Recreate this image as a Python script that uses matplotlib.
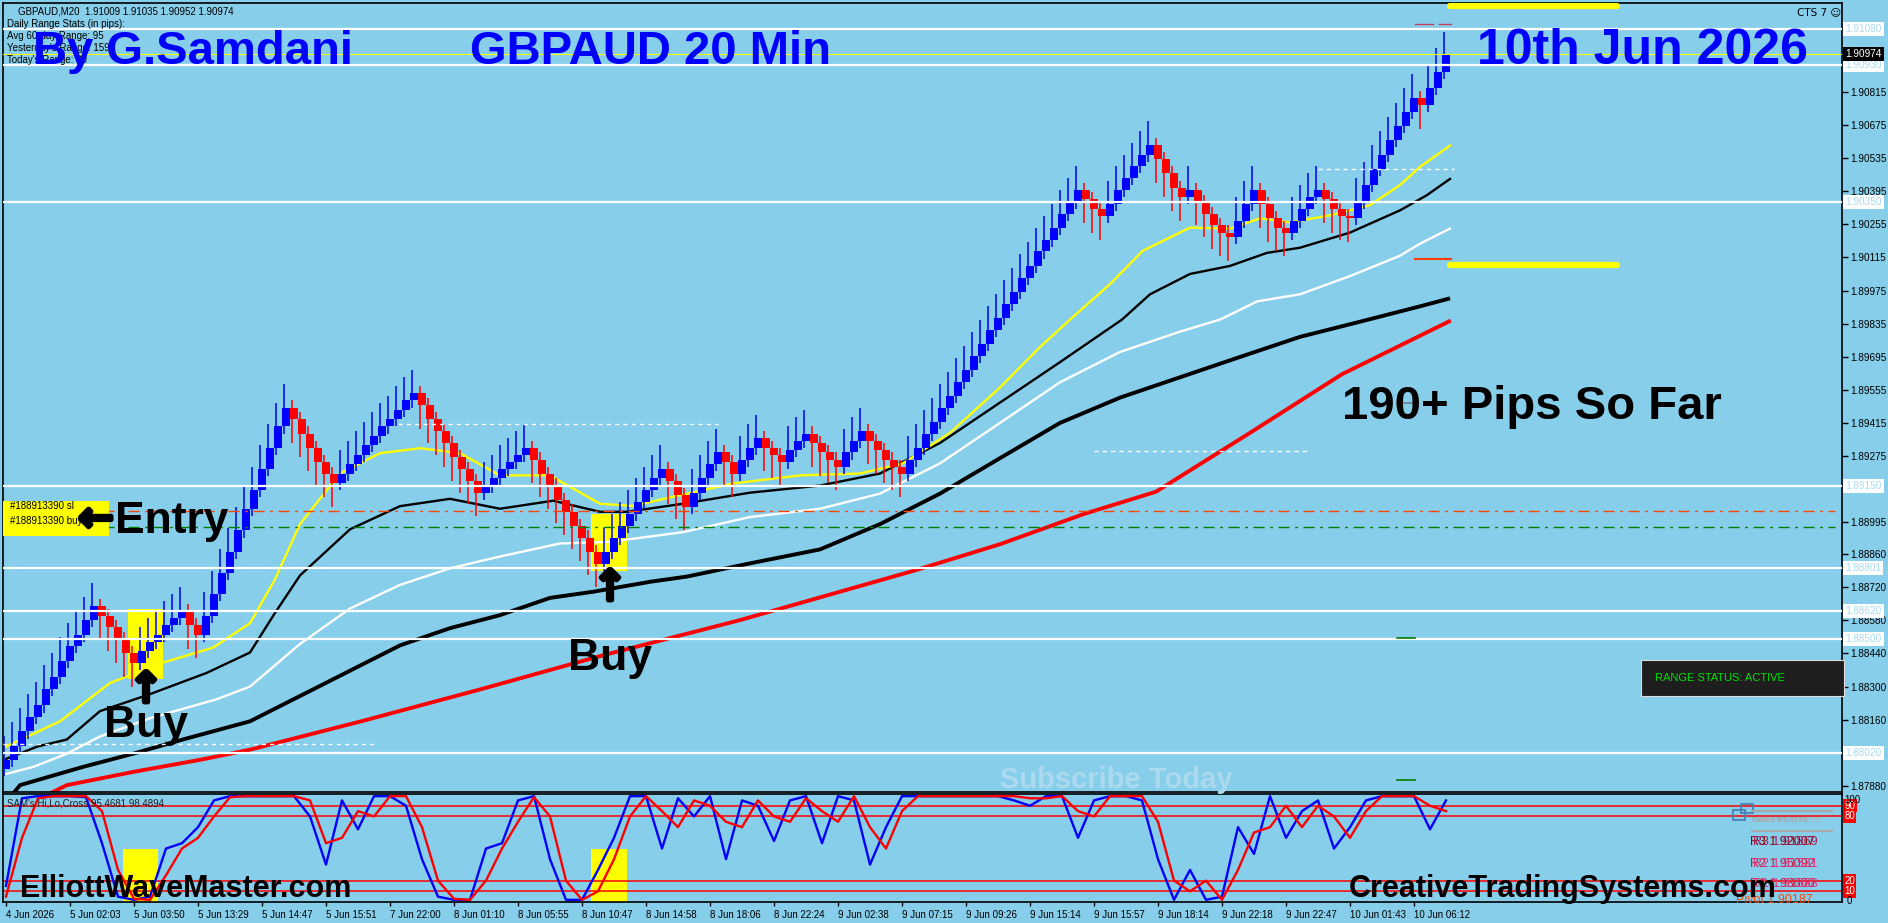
import matplotlib
matplotlib.use("Agg")
import matplotlib.pyplot as plt
import matplotlib.patheffects as pe
from matplotlib.patches import Rectangle

W, H = 1888, 923
BG = "#87CEEB"
BOLD = ["Liberation Sans", "DejaVu Sans"]
SMALL = ["Liberation Sans", "DejaVu Sans"]

# ---------------- data ----------------
closes = [
    1.8799, 1.8805, 1.8811, 1.8817, 1.8822, 1.8829, 1.8834, 1.8841, 1.8847, 1.8852,
    1.8858, 1.8864, 1.8860, 1.8855, 1.8850, 1.8844, 1.8840, 1.8845, 1.8849, 1.8852,
    1.8856, 1.8859, 1.8862, 1.8856, 1.8852, 1.8860, 1.8869, 1.8878, 1.8887, 1.8896,
    1.8905, 1.8913, 1.8922, 1.8931, 1.8940, 1.8948, 1.8943, 1.8937, 1.8931, 1.8925,
    1.8920, 1.8916, 1.8920, 1.8924, 1.8928, 1.8932, 1.8936, 1.8940, 1.8943, 1.8947,
    1.8951, 1.8954, 1.8949, 1.8943, 1.8938, 1.8933, 1.8927, 1.8922, 1.8917, 1.8912,
    1.8915, 1.8918, 1.8922, 1.8925, 1.8928, 1.8931, 1.8926, 1.8920, 1.8915, 1.8909,
    1.8904, 1.8898, 1.8893, 1.8887, 1.8882, 1.8887, 1.8893, 1.8898, 1.8903, 1.8908,
    1.8913, 1.8918, 1.8922, 1.8917, 1.8911, 1.8906, 1.8912, 1.8918, 1.8924, 1.8929,
    1.8925, 1.8920, 1.8926, 1.8931, 1.8935, 1.8931, 1.8928, 1.8925, 1.8930, 1.8934,
    1.8937, 1.8933, 1.8929, 1.8926, 1.8923, 1.8929, 1.8934, 1.8938, 1.8934, 1.8930,
    1.8926, 1.8923, 1.8920, 1.8926, 1.8931, 1.8937, 1.8942, 1.8948, 1.8953, 1.8959,
    1.8964, 1.8970, 1.8975, 1.8981, 1.8986, 1.8992, 1.8997, 1.9003, 1.9008, 1.9014,
    1.9019, 1.9024, 1.9030, 1.9035, 1.9040, 1.9036, 1.9032, 1.9029, 1.9034, 1.9040,
    1.9045, 1.9050, 1.9055, 1.9059, 1.9053, 1.9047, 1.9041, 1.9037, 1.9040, 1.9035,
    1.9030, 1.9025, 1.9022, 1.9020, 1.9027, 1.9034, 1.9040, 1.9034, 1.9028, 1.9024,
    1.9022, 1.9027, 1.9032, 1.9037, 1.9040, 1.9036, 1.9032, 1.9029, 1.9028, 1.9035,
    1.9042, 1.9049, 1.9055, 1.9061, 1.9067, 1.9073, 1.9079, 1.9076, 1.9083, 1.9090,
    1.9097,
]

yellow_x = [0, 6.75, 13, 19.6, 25.9, 30.5, 33.6, 36.75, 41.75, 46.75, 51.75, 56.75,
            61.75, 68, 74.25, 78.4, 83.4, 90.9, 99.25, 106.75, 112.1, 118, 124.25,
            129.25, 133, 138, 142.1, 148, 153, 156.75, 160.5, 165.5, 170.5, 174.25,
            176.75, 180.5]
yellow_ma = [1.88046, 1.88153, 1.88315, 1.88401, 1.88465, 1.88568, 1.88752, 1.88987,
             1.89201, 1.89287, 1.89308, 1.89287, 1.89193, 1.89193, 1.89073, 1.89064,
             1.89103, 1.89159, 1.89193, 1.89201, 1.89244, 1.89373, 1.89565, 1.89736,
             1.89852, 1.90002, 1.90143, 1.90241, 1.90237, 1.90280, 1.90263, 1.90293,
             1.90336, 1.90421, 1.90498, 1.90588]

black_x = [0, 3.9, 7.6, 11.75, 18, 25.1, 30.5, 33.6, 36.75, 43, 49.25, 55.5, 61.75,
           68.4, 74.25, 77.6, 84.6, 93, 101.75, 109.25, 116.75, 124.25, 131.75, 139.5,
           143, 148, 153, 157.6, 161.75, 168, 174.25, 177.6, 180.5]
black_ma = [1.87994, 1.88046, 1.88076, 1.88196, 1.88268, 1.88358, 1.88444, 1.88610,
            1.88770, 1.88965, 1.89063, 1.89094, 1.89052, 1.89086, 1.89039, 1.89039,
            1.89073, 1.89120, 1.89150, 1.89201, 1.89330, 1.89501, 1.89672, 1.89852,
            1.89959, 1.90045, 1.90079, 1.90134, 1.90156, 1.90220, 1.90314, 1.90378,
            1.90447]

white_x = [0, 3.4, 7.6, 11.75, 18, 26.4, 30.5, 36.75, 43, 49.25, 55.5, 61.75, 69.25,
           75.5, 84.6, 93, 101.75, 109.25, 116.75, 124.25, 131.75, 139.25, 146.75,
           151.75, 156.4, 161.75, 168, 174.25, 176.75, 180.5]
white_ma = [1.87930, 1.87960, 1.88016, 1.88089, 1.88166, 1.88247, 1.88300, 1.88480,
            1.88630, 1.88730, 1.88800, 1.88850, 1.88905, 1.88912, 1.88953, 1.89017,
            1.89052, 1.89116, 1.89244, 1.89415, 1.89587, 1.89715, 1.89801, 1.89852,
            1.89929, 1.89959, 1.90036, 1.90122, 1.90173, 1.90237]

thick_x = [0, 1.75, 9.6, 15.9, 22.1, 30.5, 36.75, 43, 49.25, 55.5, 61.75, 68, 73.4,
           80.5, 85.1, 93, 101.75, 109.25, 116.75, 124.25, 131.75, 139.25, 146.75,
           154.25, 161.75, 169.25, 176.75, 180.5]
thick_ma = [1.87810, 1.87883, 1.87960, 1.88016, 1.88076, 1.88153, 1.88260, 1.88367,
            1.88474, 1.88547, 1.88602, 1.88675, 1.88701, 1.88743, 1.88765, 1.88821,
            1.88880, 1.88987, 1.89116, 1.89266, 1.89415, 1.89522, 1.89608, 1.89694,
            1.89779, 1.89843, 1.89908, 1.89942]

red_x = [0, 7.6, 15.9, 24.25, 30.5, 44.4, 59.5, 74.5, 91.75, 113.6, 124.25, 134.75,
         143.75, 155.5, 167, 180.6]
red_ma = [1.87755, 1.87883, 1.87939, 1.87990, 1.88033, 1.88153, 1.88290, 1.88431,
          1.88581, 1.88791, 1.88902, 1.89030, 1.89124, 1.89373, 1.89621, 1.89848]

osc_x = list(range(0, 181, 2))
osc_blue = [15, 97, 99, 99, 99, 98, 55, 5, 2, 5,
            50, 55, 70, 95, 99, 99, 99, 99, 99, 80,
            35, 95, 68, 99, 99, 90, 40, 5, 2, 2,
            50, 55, 95, 99, 40, 2, 2, 30, 60, 99,
            99, 50, 97, 80, 99, 40, 95, 90, 57, 95,
            99, 55, 99, 95, 35, 70, 99, 99, 99, 99,
            99, 99, 99, 95, 90, 99, 99, 60, 95, 99,
            99, 95, 40, 2, 30, 2, 5, 70, 45, 99,
            60, 85, 95, 50, 70, 95, 99, 99, 99, 68,
            95]
osc_red = [5, 60, 97, 99, 99, 99, 85, 30, 3, 2,
           25, 50, 60, 80, 98, 99, 99, 99, 99, 95,
           55, 60, 85, 80, 99, 99, 70, 20, 3, 2,
           20, 50, 75, 98, 80, 20, 2, 10, 40, 80,
           99, 85, 70, 95, 90, 75, 70, 95, 80, 75,
           97, 85, 75, 99, 70, 50, 85, 99, 99, 99,
           99, 99, 99, 99, 97, 97, 99, 85, 80, 99,
           99, 99, 75, 20, 10, 20, 2, 30, 65, 70,
           90, 70, 90, 80, 60, 85, 99, 99, 99, 90,
           85]
osc_levels = [90, 80, 20, 10]

white_levels = [1.91080, 1.90930, 1.90350, 1.89150, 1.88801, 1.88620, 1.88500, 1.88020]
last_price = 1.90974
sl_price = 1.89042
buy_price = 1.88975
range_levels = [1.91179, 1.90083]
price_ticks = [1.90815, 1.90675, 1.90535, 1.90395, 1.90255, 1.90115, 1.89975, 1.89835,
               1.89695, 1.89555, 1.89415, 1.89275, 1.88995, 1.88860, 1.88720, 1.88580,
               1.88440, 1.88300, 1.88160, 1.87880]
time_ticks = list(range(0, 177, 8))
time_labels = ["4 Jun 2026", "5 Jun 02:03", "5 Jun 03:50", "5 Jun 13:29", "5 Jun 14:47",
               "5 Jun 15:51", "7 Jun 22:00", "8 Jun 01:10", "8 Jun 05:55", "8 Jun 10:47",
               "8 Jun 14:58", "8 Jun 18:06", "8 Jun 22:24", "9 Jun 02:38", "9 Jun 07:15",
               "9 Jun 09:26", "9 Jun 15:14", "9 Jun 15:57", "9 Jun 18:14", "9 Jun 22:18",
               "9 Jun 22:47", "10 Jun 01:43", "10 Jun 06:12"]
buy_bars = [17.5, 75.5]


def fx(x):
    return x / W


def fy(y):
    return 1 - y / H


fig = plt.figure(figsize=(W / 100, H / 100), dpi=100, facecolor=BG)
ax = fig.add_axes([fx(3), fy(792), (1842 - 3) / W, (792 - 3) / H], facecolor=BG)
osc = fig.add_axes([fx(3), fy(902), (1842 - 3) / W, (902 - 794) / H], facecolor=BG)

XMIN, XMAX = -0.375, 229.5
ax.set_xlim(XMIN, XMAX)
ax.set_ylim(1.87854, 1.91191)

# signal boxes behind the bars
ax.add_patch(Rectangle((15.3, 1.8833), 4.3, 0.0030, color="#FFFF00", lw=0, zorder=1))
ax.add_patch(Rectangle((73.1, 1.8879), 4.5, 0.0024, color="#FFFF00", lw=0, zorder=1))

# moving averages
ax.plot(red_x, red_ma, color="#FF0000", lw=2.8, zorder=2, solid_capstyle="butt")
ax.plot(thick_x, thick_ma, color="black", lw=2.8, zorder=2, solid_capstyle="butt")
ax.plot(white_x, white_ma, color="white", lw=1.7, zorder=2)
ax.plot(black_x, black_ma, color="black", lw=1.7, zorder=2)
ax.plot(yellow_x, yellow_ma, color="#FFFF00", lw=1.7, zorder=2)

# heikin-ashi style bars
opens = [closes[0] - 0.0004] + closes[:-1]
for i, (o, c) in enumerate(zip(opens, closes)):
    up = c >= o
    col = "#0000FF" if up else "#FF0000"
    lo, hi = min(o, c), max(o, c)
    wl = lo - (0.0003 if up else 0.0010)
    wh = hi + (0.0010 if up else 0.0003)
    ax.vlines(i - 0.3, wl, wh, color=col, lw=1.1, zorder=3)
    ax.add_patch(Rectangle((i - 0.5, lo), 1.0, max(hi - lo, 0.00008),
                           color=col, lw=0, zorder=4))

# horizontal levels
for lv in white_levels:
    ax.axhline(lv, color="white", lw=1.6, zorder=5)
ax.axhline(last_price, color="#FFFF00", lw=0.8, zorder=5)
ax.plot([XMIN, 228.6], [sl_price] * 2, color="#FF4500", lw=1, ls=(0, (8, 4, 2, 4)), zorder=5)
ax.plot([XMIN, 228.6], [buy_price] * 2, color="#008000", lw=1, ls=(0, (8, 4, 2, 4)), zorder=5)

# dotted guide lines
ax.plot([XMIN, 46], [1.88057] * 2, color="white", lw=1, ls=(0, (3, 3)), zorder=5)
ax.plot([49, 89], [1.89410] * 2, color="white", lw=1, ls=(0, (3, 3)), zorder=5)
ax.plot([136, 163], [1.89296] * 2, color="white", lw=1, ls=(0, (3, 3)), zorder=5)
ax.plot([164, 181], [1.90491] * 2, color="white", lw=1, ls=(0, (3, 3)), zorder=5)

# daily range projection lines and small marks
for lv in range_levels:
    ax.plot([180.5, 201.4], [lv] * 2, color="#FFFF00", lw=4.5, solid_capstyle="round", zorder=6)
ax.plot([176.1, 178.4], [1.91102] * 2, color="#C8405A", lw=1, zorder=6)
ax.plot([179.1, 180.6], [1.91102] * 2, color="#C8405A", lw=1, zorder=6)
ax.plot([176.1, 180.6], [1.90108] * 2, color="#FF3C00", lw=1.5, zorder=6)
ax.plot([173.9, 176.1], [1.88505] * 2, color="#008000", lw=1.2, zorder=6)
ax.plot([173.9, 176.1], [1.87905] * 2, color="#008000", lw=1.2, zorder=6)
ax.plot([173.9, 176.1], [1.89500] * 2, color="#708090", lw=1.2, zorder=6)

# right price axis
ax.yaxis.tick_right()
ax.set_yticks(price_ticks)
ax.set_yticklabels([f"{p:.5f}" for p in price_ticks], family=SMALL)
ax.tick_params(axis="y", direction="out", length=4, width=1, labelsize=7.2, pad=2)
ax.set_xticks([])
for s in ax.spines.values():
    s.set_color("black")
    s.set_linewidth(1.2)

ytr = ax.get_yaxis_transform()
for lv in white_levels:
    ax.text(1.0018, lv, f"{lv:.5f}", transform=ytr, ha="left", va="center", fontsize=7.2,
            family=SMALL, color="#A9DCF2", clip_on=False, zorder=10,
            bbox=dict(boxstyle="square,pad=0.2", fc="white", ec="none"))
ax.text(1.0018, last_price, f"{last_price:.5f}", transform=ytr, ha="left", va="center",
        fontsize=7.2, family=SMALL, color="white", clip_on=False, zorder=11,
        bbox=dict(boxstyle="square,pad=0.2", fc="black", ec="none"))

# range status box
ax.add_patch(Rectangle((204.4, 1.88260), 25.3, 0.00152, fc="#1E1E1E", ec="#DDDDDD",
                       lw=0.8, zorder=7, clip_on=False))
fig.text(fx(1655), fy(678), "RANGE STATUS: ACTIVE", fontsize=8, color="#00E000",
         family=SMALL, va="center", ha="left")

# ---------------- oscillator ----------------
osc.set_xlim(XMIN, XMAX)
osc.set_ylim(0, 101)
for lv in osc_levels:
    osc.axhline(lv, color="#FF0000", lw=1.1, zorder=1)
osc.add_patch(Rectangle((14.6, 0), 4.4, 50, color="#FFFF00", lw=0, zorder=0.5))
osc.add_patch(Rectangle((73.1, 0), 4.5, 50, color="#FFFF00", lw=0, zorder=0.5))
osc.plot(osc_x, osc_blue, color="#0000FF", lw=1.7, zorder=2)
osc.plot(osc_x, osc_red, color="#FF0000", lw=1.7, zorder=3)
osc.set_yticks([])
osc.set_xticks(time_ticks)
osc.set_xticklabels(time_labels, ha="left", fontsize=7, family=SMALL)
osc.tick_params(axis="x", direction="out", length=3, width=1, pad=3)
for s in osc.spines.values():
    s.set_color("black")
    s.set_linewidth(1.2)

otr = osc.get_yaxis_transform()
for lv in osc_levels:
    osc.text(1.0012, lv, str(lv), transform=otr, ha="left", va="center", fontsize=7,
             family=SMALL, color="white", clip_on=False,
             bbox=dict(boxstyle="square,pad=0.15", fc="#FF0000", ec="none"))
osc.text(1.0015, 100, "100", transform=otr, ha="left", va="top", fontsize=7,
         family=SMALL, color="black", clip_on=False)
osc.text(1.0025, 1, "0", transform=otr, ha="left", va="center", fontsize=7,
         family=SMALL, color="black", clip_on=False)

fig.text(fx(7), fy(804), "SAM's Hi,Lo,Cross 95.4681 98.4894", fontsize=7, family=SMALL,
         va="center", color="#202020")

# daily pivot labels (overlapping, as in the terminal)
fig.add_artist(Rectangle((fx(1733), fy(820)), 12 / W, 10 / H, fill=False, ec="#4682B4", lw=1.3))
fig.add_artist(Rectangle((fx(1741), fy(813)), 12 / W, 9 / H, fill=False, ec="#4682B4", lw=1.3))
fig.add_artist(plt.Line2D([fx(1752), fx(1832)], [fy(811)] * 2, color="#A8A8A8", lw=1.5))
fig.add_artist(plt.Line2D([fx(1752), fx(1832)], [fy(831)] * 2, color="#A8A8A8", lw=1.5))
fig.text(fx(1752), fy(821), "DAILY PIVOTS", fontsize=6, color="#9A9A9A", va="center", family=SMALL)
fig.text(fx(1754), fy(821), "WEEKLY PIVOTS", fontsize=6, color="#B0B0B0", va="center", family=SMALL)
for dx, txt, col in [(0, "R3 1.92007", "#8B0000"), (3, "R3 1.91869", "#A0205A")]:
    fig.text(fx(1750 + dx), fy(842), txt, fontsize=9, color=col, va="center", family=SMALL)
for dx, txt, col in [(0, "R2 1.95092", "#DC143C"), (3, "R2 1.91531", "#E0307A")]:
    fig.text(fx(1750 + dx), fy(864), txt, fontsize=9, color=col, va="center", family=SMALL)
for dx, txt, col in [(0, "R1 1.93000", "#DC143C"), (3, "R1 1.91088", "#E0307A")]:
    fig.text(fx(1750 + dx), fy(884), txt, fontsize=9, color=col, va="center", family=SMALL)
fig.text(fx(1736), fy(900), "Pivot 1.90187", fontsize=9, color="#FF4500", va="center",
         family=SMALL)

# ---------------- texts ----------------
fig.text(fx(18), fy(11), "GBPAUD,M20  1.91009 1.91035 1.90952 1.90974", fontsize=7,
         family=SMALL, va="center")
for yy, txt in [(24, "Daily Range Stats (in pips):"), (36, "Avg 60-day Range: 95"),
                (48, "Yesterday's Range: 159"), (60, "Today's Range: 80")]:
    fig.text(fx(7), fy(yy), txt, fontsize=7, family=SMALL, va="center")

fig.text(fx(1797), fy(12), "CTS 7 \u263A", fontsize=7.5, family=["DejaVu Sans"], va="center")

big = dict(fontweight="bold", color="#0000FF", family=BOLD, va="baseline")
fig.text(fx(33), fy(64), "By G.Samdani", fontsize=34, **big)
fig.text(fx(470), fy(64), "GBPAUD 20 Min", fontsize=34, **big)
fig.text(fx(1477), fy(64), "10th Jun 2026", fontsize=36, **big)

fig.text(fx(1342), fy(419), "190+ Pips So Far", fontsize=34, fontweight="bold",
         color="black", family=BOLD, va="baseline")
fig.text(fx(1000), fy(780), "Subscribe Today", fontsize=21, fontweight="bold",
         color="#ABDAEF", family=BOLD, va="center")

# trade labels
ax.add_patch(Rectangle((XMIN, 1.88937), 13.3, 0.00148, color="#FFFF00", lw=0, zorder=6))
fig.text(fx(10), fy(506), "#188913390 sl", fontsize=7, family=SMALL, va="center")
fig.text(fx(10), fy(521), "#188913390 buy", fontsize=7, family=SMALL, va="center")

thick = [pe.withStroke(linewidth=3.5, foreground="black")]
fig.text(fx(96), fy(519), "\u2190", fontsize=30, color="black", family=["DejaVu Sans"],
         va="center", ha="center", path_effects=thick)
fig.text(fx(115), fy(533), "Entry", fontsize=32, fontweight="bold", color="black",
         family=BOLD, va="baseline")

for bb, (ya, yb) in zip(buy_bars, [(690, 737), (588, 670)]):
    xp = 3 + (bb - XMIN) * 8
    fig.text(fx(xp), fy(ya), "\u2191", fontsize=30, color="black", family=["DejaVu Sans"],
             va="center", ha="center", path_effects=thick)
    fig.text(fx(xp), fy(yb), "Buy", fontsize=32, fontweight="bold", color="black",
             family=BOLD, va="baseline", ha="center")

foot = dict(fontsize=22, fontweight="bold", color="black", family=BOLD, va="baseline")
fig.text(fx(20), fy(897), "ElliottWaveMaster.com", **foot)
fig.text(fx(1349), fy(897), "CreativeTradingSystems.com", **foot)

fig.savefig("out.png", dpi=100, facecolor=BG)
